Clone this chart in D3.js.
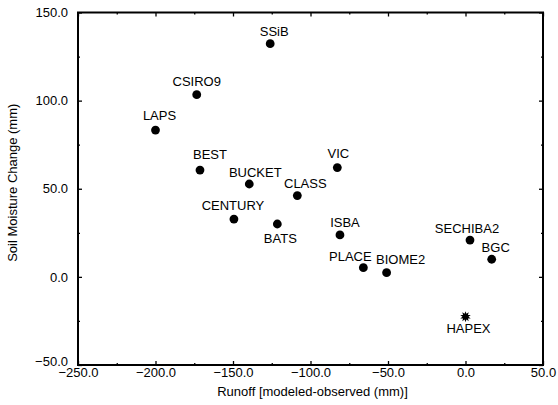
<!DOCTYPE html>
<html>
<head>
<meta charset="utf-8">
<script src="https://cdn.jsdelivr.net/npm/d3@7"></script>
<style>
    body { margin: 0; background: #fff; }
    svg { font-family: "Liberation Sans", Arial, Helvetica, sans-serif; }
    .tick text { font-size: 13px; fill: #000; }
    .lbl { font-size: 13px; fill: #000; }
</style>
</head>
<body>
<div id="chart"></div>
<script>
/* Chart data. */
const models = ['SSiB', 'CSIRO9', 'LAPS', 'BEST', 'BUCKET', 'CLASS', 'VIC', 'CENTURY',
    'BATS', 'ISBA', 'PLACE', 'BIOME2', 'SECHIBA2', 'BGC'];
const runoff = [-126, -173.4, -200, -171.3, -139.5, -108.5, -82.7, -149.4,
    -121.4, -81, -65.9, -50.9, 2.9, 16.9];
const soilMoisture = [132.3, 103.4, 83.3, 60.6, 52.7, 46.1, 62, 32.8,
    30, 23.8, 5.2, 2.4, 20.9, 10];

const observedName = ['HAPEX'];
const observedRunoff = [0];
const observedSoil = [-22.6];

const xTicks = [-250, -200, -150, -100, -50, 0, 50];
const yTicks = [-50, 0, 50, 100, 150];

// Label placement relative to each marker (pixels).
const labelOffset = {
    SSiB: [4, -12], CSIRO9: [0, -13], LAPS: [4, -15], BEST: [10, -16],
    BUCKET: [6, -12], CLASS: [8, -12], VIC: [1, -14], CENTURY: [-1, -14],
    BATS: [3, 14], ISBA: [5, -13], PLACE: [-13, -11], BIOME2: [14, -13],
    SECHIBA2: [-3, -12], BGC: [4, -12], HAPEX: [3, 12]
};

/* Chart creation values. */
const W = 558, H = 405;
const margin = {top: 12.5, right: 15, bottom: 40, left: 78};
const width = W - margin.left - margin.right;
const height = H - margin.top - margin.bottom;

const svg = d3.select('#chart').append('svg')
    .attr('width', W)
    .attr('height', H)
    .append('g')
    .attr('transform', 'translate(' + margin.left + ',' + margin.top + ')');

const x = d3.scaleLinear().domain([-250, 50]).range([0, width]);
const y = d3.scaleLinear().domain([-50, 150]).range([height, 0]);

const fmt = d3.format('.1f');
const xMinor = d3.range(-225, 50, 50);
const yMinor = d3.range(-25, 150, 50);

// Major ticks, pointing inward.
svg.append('g').attr('transform', 'translate(0,' + height + ')')
    .call(d3.axisBottom(x).tickValues(xTicks).tickFormat(fmt).tickSize(-4).tickSizeOuter(0).tickPadding(3));
const yAxis = svg.append('g')
    .call(d3.axisLeft(y).tickValues(yTicks).tickFormat(fmt).tickSize(-4).tickSizeOuter(0).tickPadding(10));
// Lowest y label sits a little higher, clear of the x labels.
yAxis.selectAll('.tick text').filter(function (d) { return d === -50; }).attr('y', -4);
svg.append('g')
    .call(d3.axisTop(x).tickValues(xTicks).tickFormat('').tickSize(-4).tickSizeOuter(0));
svg.append('g').attr('transform', 'translate(' + width + ',0)')
    .call(d3.axisRight(y).tickValues(yTicks).tickFormat('').tickSize(-4).tickSizeOuter(0));

// Minor ticks.
svg.append('g').attr('transform', 'translate(0,' + height + ')')
    .call(d3.axisBottom(x).tickValues(xMinor).tickFormat('').tickSize(-2).tickSizeOuter(0));
svg.append('g')
    .call(d3.axisTop(x).tickValues(xMinor).tickFormat('').tickSize(-2).tickSizeOuter(0));
svg.append('g')
    .call(d3.axisLeft(y).tickValues(yMinor).tickFormat('').tickSize(-2).tickSizeOuter(0));
svg.append('g').attr('transform', 'translate(' + width + ',0)')
    .call(d3.axisRight(y).tickValues(yMinor).tickFormat('').tickSize(-2).tickSizeOuter(0));

svg.selectAll('.domain').remove();
svg.selectAll('.tick line').attr('stroke', '#000').attr('stroke-width', 1.3);

// Frame.
svg.append('rect')
    .attr('width', width).attr('height', height)
    .attr('fill', 'none').attr('stroke', '#000').attr('stroke-width', 2);

// Axis titles.
svg.append('text').attr('class', 'lbl')
    .attr('x', width / 2 + 2).attr('y', height + 31)
    .attr('text-anchor', 'middle')
    .text('Runoff [modeled-observed (mm)]');
svg.append('text').attr('class', 'lbl')
    .attr('transform', 'translate(' + (-margin.left + 17) + ',' + (height / 2 - 6) + ') rotate(-90)')
    .attr('text-anchor', 'middle')
    .text('Soil Moisture Change (mm)');

// Model points.
const pts = models.map(function (m, i) {
    return {name: m, x: runoff[i], y: soilMoisture[i]};
});
svg.selectAll('circle.model')
    .data(pts)
    .enter()
    .append('circle')
    .attr('class', 'model')
    .attr('cx', function (d) { return x(d.x); })
    .attr('cy', function (d) { return y(d.y); })
    .attr('r', 4.4)
    .attr('fill', '#000');

// Observed point drawn as a burst.
const obs = observedName.map(function (m, i) {
    return {name: m, x: observedRunoff[i], y: observedSoil[i]};
});
const burst = d3.lineRadial().curve(d3.curveLinearClosed)
    .angle(function (d, i) { return i * Math.PI / 10; })
    .radius(function (d, i) { return i % 2 ? 3 : 5.5; });
svg.selectAll('path.obs')
    .data(obs)
    .enter()
    .append('path')
    .attr('class', 'obs')
    .attr('transform', function (d) { return 'translate(' + x(d.x) + ',' + y(d.y) + ')'; })
    .attr('d', burst(d3.range(20)))
    .attr('fill', '#000');

// Point labels.
svg.selectAll('text.name')
    .data(pts.concat(obs))
    .enter()
    .append('text')
    .attr('class', 'lbl name')
    .attr('text-anchor', 'middle')
    .attr('x', function (d) { return x(d.x) + labelOffset[d.name][0]; })
    .attr('y', function (d) { return y(d.y) + labelOffset[d.name][1]; })
    .attr('dy', '0.36em')
    .text(function (d) { return d.name; });
</script>
</body>
</html>
